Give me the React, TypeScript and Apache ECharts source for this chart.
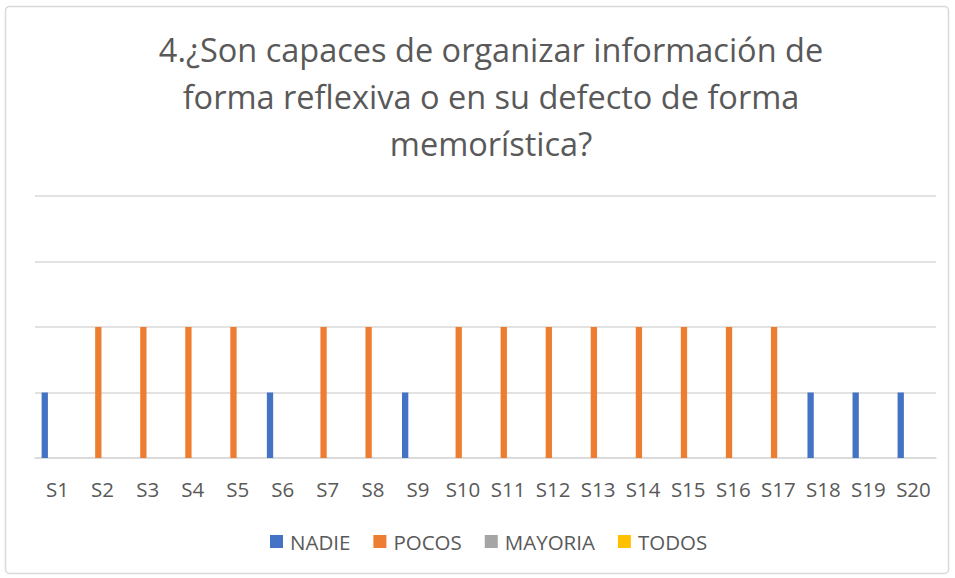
import React, { useEffect, useRef } from "react";
import * as echarts from "echarts";

const titleText = "4.¿Son capaces de organizar información de\nforma reflexiva o en su defecto de forma\nmemorística?";
const categories = ["S1","S2","S3","S4","S5","S6","S7","S8","S9","S10","S11","S12","S13","S14","S15","S16","S17","S18","S19","S20"];
const nadie = [1,0,0,0,0,1,0,0,1,0,0,0,0,0,0,0,0,1,1,1];
const pocos = [0,2,2,2,2,0,2,2,0,2,2,2,2,2,2,2,2,0,0,0];
const mayoria = [0,0,0,0,0,0,0,0,0,0,0,0,0,0,0,0,0,0,0,0];
const todos = [0,0,0,0,0,0,0,0,0,0,0,0,0,0,0,0,0,0,0,0];
const seriesNames = ["NADIE", "POCOS", "MAYORIA", "TODOS"];
const colors = ["#4472C4", "#ED7D31", "#A5A5A5", "#FFC000"];

export default function App() {
  const ref = useRef<HTMLDivElement>(null);
  useEffect(() => {
    if (!ref.current) return;
    const chart = echarts.init(ref.current, undefined, { renderer: "svg" });
    const font = "'Open Sans', 'Noto Sans', sans-serif";
    const data = [nadie, pocos, mayoria, todos];
    chart.setOption({
      animation: false,
      backgroundColor: "#ffffff",
      color: colors,
      textStyle: { fontFamily: font },
      title: {
        text: titleText,
        left: 486,
        textAlign: "center",
        top: 21,
        textStyle: { fontSize: 32.5, fontWeight: "normal", color: "#595959", lineHeight: 47, fontFamily: font },
      },
      graphic: [
        {
          type: "rect",
          shape: { x: 5.5, y: 6.5, width: 943, height: 567, r: 4 },
          style: { fill: "none", stroke: "#d9d9d9", lineWidth: 1.5 },
          silent: true,
        },
      ],
      legend: {
        bottom: 21,
        left: 265,
        itemWidth: 13,
        itemHeight: 13,
        itemGap: 23,
        icon: "rect",
        textStyle: { fontSize: 20.5, color: "#595959", fontFamily: font, padding: [0, 0, 0, 2] },
        data: seriesNames,
      },
      grid: { left: 35, right: 19, top: 196, bottom: 120, containLabel: false },
      xAxis: {
        type: "category",
        data: categories,
        axisLine: { show: true, lineStyle: { color: "#d9d9d9", width: 1.5 } },
        axisTick: { show: false },
        axisLabel: { fontSize: 20.5, color: "#595959", margin: 20, fontFamily: font, interval: 0 },
      },
      yAxis: {
        type: "value",
        min: 0,
        max: 4,
        interval: 1,
        axisLabel: { show: false },
        axisLine: { show: false },
        axisTick: { show: false },
        splitLine: { lineStyle: { color: "#d9d9d9", width: 1.5 } },
      },
      series: seriesNames.map((name, i) => ({
        name,
        type: "bar",
        data: data[i],
        barWidth: 6.3,
        barGap: "35%",
        itemStyle: { color: colors[i] },
      })),
    });
    return () => chart.dispose();
  }, []);
  return <div ref={ref} style={{ position: "fixed", left: 0, top: 0, width: 955, height: 578 }} />;
}
